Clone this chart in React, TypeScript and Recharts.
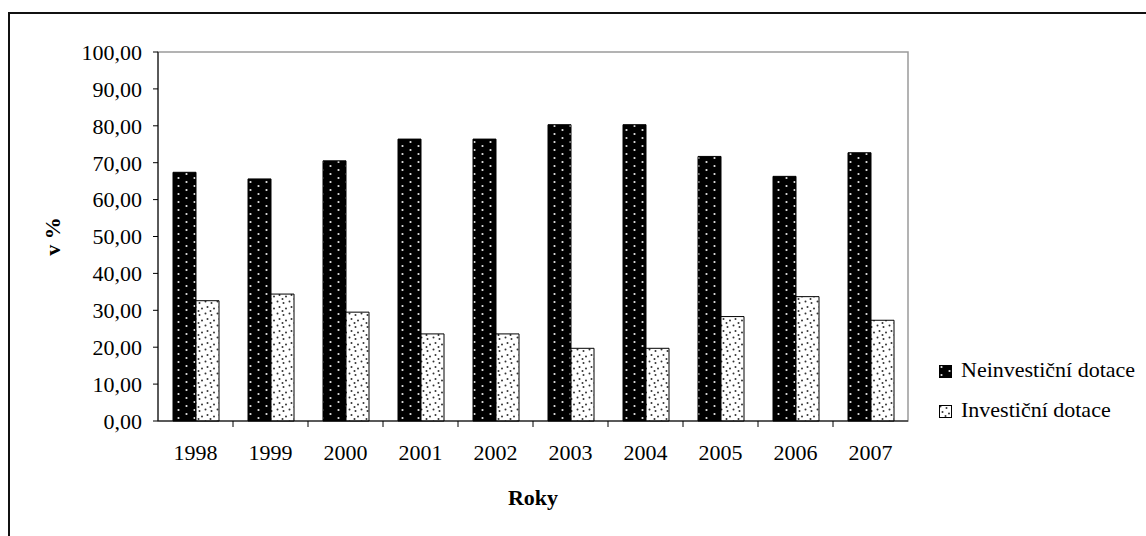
import React from "react";
import { Bar, BarChart, ReferenceArea, XAxis, YAxis } from "recharts";

const years = ["1998", "1999", "2000", "2001", "2002", "2003", "2004", "2005", "2006", "2007"];
const neinvesticni = [67.4, 65.6, 70.5, 76.4, 76.4, 80.3, 80.3, 71.7, 66.3, 72.7];
const investicni = [32.6, 34.4, 29.5, 23.6, 23.6, 19.7, 19.7, 28.3, 33.7, 27.3];
const yTicks = [0, 10, 20, 30, 40, 50, 60, 70, 80, 90, 100];

const NEINV = "Neinvestiční dotace";
const INV = "Investiční dotace";

const data = years.map((rok, i) => ({ rok, [NEINV]: neinvesticni[i], [INV]: investicni[i] }));

const FONT = "'Liberation Serif', 'Times New Roman', serif";
const tickStyle = { fill: "#000", fontSize: 22, fontFamily: FONT };

const fmt = (v: number) => v.toFixed(2).replace(".", ",");

// category label plus a tick mark on the boundary left of each category (Excel style)
const YearTick = (props: any) => {
  const { x, y, payload, index } = props;
  const axisY = y - 23;
  const left = x - (payload.offset || 0);
  return (
    <g>
      {index > 0 && <line x1={left} y1={axisY} x2={left} y2={axisY + 6} stroke="#000" />}
      <text x={x} y={y} dy="0.71em" textAnchor="middle" {...tickStyle}>
        {payload.value}
      </text>
    </g>
  );
};

function Swatch({ fill }: { fill: string }) {
  return (
    <svg width={13} height={13} style={{ marginRight: 9, marginTop: 3 }}>
      <rect x={0.5} y={0.5} width={12} height={12} fill={fill} stroke="#000" strokeWidth={1} />
    </svg>
  );
}

function LegendBox() {
  const rows = [
    { name: NEINV, fill: "url(#neinvPattern)" },
    { name: INV, fill: "url(#invPattern)" },
  ];
  return (
    <div style={{ position: "absolute", left: 939, top: 350, fontFamily: FONT, fontSize: 22, color: "#000" }}>
      {rows.map((r) => (
        <div key={r.name} style={{ display: "flex", alignItems: "center", height: 40, whiteSpace: "nowrap" }}>
          <Swatch fill={r.fill} />
          <span>{r.name}</span>
        </div>
      ))}
    </div>
  );
}

const YTitle = (props: any) => {
  const { x, y, height } = props.viewBox;
  const cx = x + 52;
  const cy = y + height / 2;
  return (
    <text
      x={cx}
      y={cy}
      transform={`rotate(-90, ${cx}, ${cy})`}
      textAnchor="middle"
      dominantBaseline="central"
      fontFamily={FONT}
      fontSize={22}
      fontWeight="bold"
      fill="#000"
    >
      v %
    </text>
  );
};

const XTitle = (props: any) => {
  const { x, y, width } = props.viewBox;
  return (
    <text x={x + width / 2} y={y + 84} textAnchor="middle" fontFamily={FONT} fontSize={22} fontWeight="bold" fill="#000">
      Roky
    </text>
  );
};

export default function App() {
  return (
    <div style={{ position: "absolute", left: 0, top: 0, width: 1146, height: 536, overflow: "hidden", background: "#fff" }}>
      <div
        style={{
          position: "absolute",
          left: 8,
          top: 12,
          width: 1200,
          height: 600,
          border: "2px solid #111",
        }}
      />
      <div style={{ position: "absolute", left: 0, top: 0 }}>
        <BarChart
          width={1146}
          height={536}
          data={data}
          margin={{ top: 52, right: 238, bottom: 25, left: 0 }}
          barCategoryGap="20%"
          barGap={0}
        >
          <defs>
            <pattern id="neinvPattern" patternUnits="userSpaceOnUse" width={16} height={8}>
              <rect width={16} height={8} fill="#000" />
              <circle cx={2.5} cy={2} r={1.1} fill="#e6e6e6" />
              <circle cx={10.5} cy={6} r={1.1} fill="#e6e6e6" />
            </pattern>
            <pattern id="invPattern" patternUnits="userSpaceOnUse" width={12} height={12}>
              <rect width={12} height={12} fill="#fff" />
              <circle cx={1.5} cy={1.5} r={1} fill="#333" />
              <circle cx={7.5} cy={3} r={1} fill="#333" />
              <circle cx={3.5} cy={7} r={1} fill="#333" />
              <circle cx={10} cy={8.5} r={1} fill="#333" />
              <circle cx={6.5} cy={11} r={1} fill="#333" />
            </pattern>
          </defs>
          <ReferenceArea x1="1998" x2="2007" y1={0} y2={100} fill="none" stroke="#9a9a9a" strokeWidth={1.5} />
          <XAxis
            dataKey="rok"
            tick={<YearTick />}
            tickLine={false}
            axisLine={{ stroke: "#000" }}
            tickSize={6}
            tickMargin={17}
            height={90}
            interval={0}
            label={{ content: XTitle }}
          />
          <YAxis
            domain={[0, 100]}
            ticks={yTicks}
            tickFormatter={fmt}
            tick={tickStyle}
            axisLine={{ stroke: "#000" }}
            tickLine={{ stroke: "#000" }}
            tickSize={5}
            tickMargin={11}
            width={158}
            interval={0}
            label={{ content: YTitle }}
          />
          <Bar dataKey={NEINV} fill="url(#neinvPattern)" stroke="#000" strokeWidth={1} isAnimationActive={false} />
          <Bar dataKey={INV} fill="url(#invPattern)" stroke="#000" strokeWidth={1} isAnimationActive={false} />
        </BarChart>
      </div>
      <LegendBox />
    </div>
  );
}
